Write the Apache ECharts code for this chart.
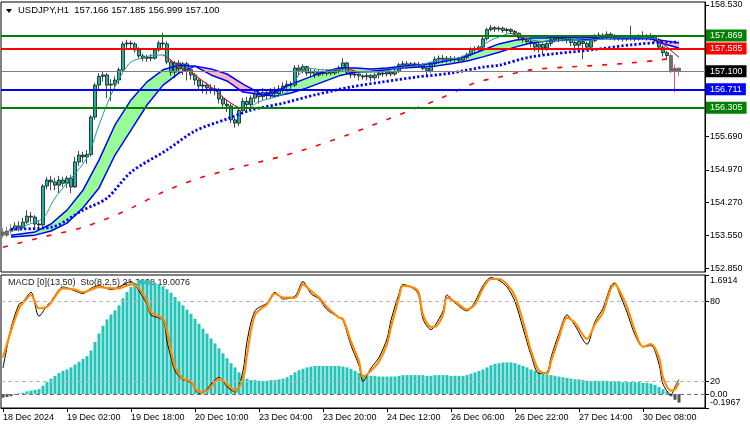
<!DOCTYPE html>
<html>
<head>
<meta charset="utf-8">
<script src="https://cdn.jsdelivr.net/npm/echarts@6/dist/echarts.min.js"></script>
<style>
  html, body { margin: 0; padding: 0; background: #fff; }
  #chart { width: 750px; height: 430px; }
</style>
</head>
<body>
<div id="chart"></div>
<script>
// x axis labels, one every 16 hourly bars
const timeLabels = ['18 Dec 2024', '19 Dec 02:00', '19 Dec 18:00', '20 Dec 10:00', '23 Dec 04:00', '23 Dec 20:00',
  '24 Dec 12:00', '26 Dec 06:00', '26 Dec 22:00', '27 Dec 14:00', '30 Dec 08:00'];

// USDJPY H1 candles
const opens = [153.63,153.56,153.65,153.69,153.76,153.72,153.84,153.97,153.95,153.80,
  153.78,154.62,154.75,154.71,154.64,154.75,154.68,154.79,154.60,155.14,
  155.29,155.25,155.30,156.11,156.80,156.99,157.02,156.80,156.82,156.91,
  157.13,157.69,157.71,157.69,157.56,157.43,157.38,157.40,157.38,157.56,
  157.71,157.69,157.30,157.08,157.28,157.15,157.26,157.13,157.02,156.91,
  156.78,156.80,156.74,156.72,156.69,156.50,156.39,156.35,156.05,155.98,
  156.25,156.45,156.38,156.52,156.62,156.55,156.64,156.58,156.66,156.62,
  156.72,156.78,156.82,156.80,157.17,157.12,157.20,157.06,157.10,157.02,
  157.08,157.05,157.10,157.06,157.12,157.16,157.28,157.08,157.02,157.04,
  157.00,156.98,157.01,156.96,157.02,157.06,157.04,157.08,157.04,157.10,
  157.24,157.26,157.22,157.26,157.24,157.25,157.16,157.10,157.26,157.36,
  157.38,157.34,157.38,157.35,157.36,157.34,157.40,157.46,157.58,157.56,
  157.62,157.80,158.00,158.04,158.01,158.03,157.98,158.00,157.96,157.92,
  157.82,157.78,157.74,157.70,157.62,157.68,157.60,157.70,157.78,157.82,
  157.80,157.84,157.78,157.72,157.66,157.74,157.70,157.62,157.76,157.86,
  157.88,157.84,157.90,157.86,157.82,157.84,157.80,157.82,157.84,157.80,
  157.84,157.86,157.82,157.84,157.78,157.62,157.50,157.44,157.10,157.166];
const closes = [153.56,153.65,153.69,153.76,153.72,153.84,153.97,153.95,153.80,153.78,
  154.62,154.75,154.71,154.64,154.75,154.68,154.79,154.60,155.14,155.29,
  155.25,155.30,156.11,156.80,156.99,157.02,156.80,156.82,156.91,157.13,
  157.69,157.71,157.69,157.56,157.43,157.38,157.40,157.38,157.56,157.71,
  157.69,157.30,157.08,157.28,157.15,157.26,157.13,157.02,156.91,156.78,
  156.80,156.74,156.72,156.69,156.50,156.39,156.35,156.05,155.98,156.25,
  156.45,156.38,156.52,156.62,156.55,156.64,156.58,156.66,156.62,156.72,
  156.78,156.82,156.80,157.17,157.12,157.20,157.06,157.10,157.02,157.08,
  157.05,157.10,157.06,157.12,157.16,157.28,157.08,157.02,157.04,157.00,
  156.98,157.01,156.96,157.02,157.06,157.04,157.08,157.04,157.10,157.24,
  157.26,157.22,157.26,157.24,157.25,157.16,157.10,157.26,157.36,157.38,
  157.34,157.38,157.35,157.36,157.34,157.40,157.46,157.58,157.56,157.62,
  157.80,158.00,158.04,158.01,158.03,157.98,158.00,157.96,157.92,157.82,
  157.78,157.74,157.70,157.62,157.68,157.60,157.70,157.78,157.82,157.80,
  157.84,157.78,157.72,157.66,157.74,157.70,157.62,157.76,157.86,157.88,
  157.84,157.90,157.86,157.82,157.84,157.80,157.82,157.84,157.80,157.84,
  157.86,157.82,157.84,157.78,157.62,157.50,157.44,157.10,157.16,157.100];
const lows = [153.50,153.52,153.58,153.65,153.64,153.70,153.80,153.84,153.71,153.69,
  153.74,154.55,154.53,154.53,154.47,154.60,154.58,154.47,154.58,155.05,
  155.13,155.10,155.26,156.05,156.70,156.88,156.52,156.45,156.70,156.82,
  157.08,157.60,157.58,157.50,157.38,157.32,157.30,157.32,157.35,157.52,
  157.60,157.25,157.00,156.95,157.05,157.02,156.90,156.92,156.80,156.70,
  156.62,156.60,156.62,156.58,156.40,156.30,156.22,155.98,155.88,155.92,
  156.18,156.20,156.25,156.42,156.40,156.48,156.50,156.52,156.56,156.55,
  156.62,156.70,156.72,156.76,157.02,157.05,157.00,156.97,156.95,156.98,
  157.00,157.00,157.01,157.02,157.05,157.10,157.02,156.95,156.96,156.90,
  156.92,156.90,156.88,156.90,156.94,156.98,156.98,156.99,157.00,157.06,
  157.16,157.16,157.18,157.18,157.17,157.12,157.00,157.06,157.20,157.26,
  157.28,157.28,157.29,157.30,157.28,157.30,157.35,157.42,157.48,157.52,
  157.58,157.76,157.96,157.95,157.96,157.93,157.92,157.90,157.86,157.76,
  157.72,157.68,157.62,157.52,157.50,157.46,157.54,157.64,157.72,157.73,
  157.74,157.70,157.64,157.60,157.60,157.36,157.55,157.58,157.72,157.80,
  157.78,157.80,157.78,157.76,157.76,157.74,157.75,157.76,157.74,157.76,
  157.78,157.76,157.76,157.72,157.56,157.42,157.36,157.06,156.64,156.999];
const highs = [153.71,153.74,153.80,153.84,153.86,153.93,154.10,154.06,153.99,153.88,
  154.66,154.82,154.84,154.80,154.84,154.82,154.84,154.86,155.25,155.38,
  155.36,155.40,156.15,156.85,157.06,157.10,157.06,156.93,156.99,157.18,
  157.74,157.78,157.76,157.73,157.62,157.48,157.46,157.47,157.60,157.76,
  157.93,157.74,157.36,157.32,157.34,157.30,157.30,157.16,157.06,156.95,
  156.88,156.86,156.82,156.80,156.74,156.56,156.48,156.40,156.10,156.30,
  156.52,156.55,156.58,156.70,156.68,156.74,156.70,156.74,156.76,156.80,
  156.86,156.90,156.88,157.23,157.24,157.25,157.22,157.16,157.14,157.13,
  157.12,157.14,157.13,157.16,157.22,157.38,157.30,157.10,157.08,157.06,
  157.03,157.06,157.04,157.06,157.10,157.10,157.12,157.11,157.14,157.28,
  157.32,157.32,157.30,157.30,157.30,157.28,157.20,157.30,157.42,157.44,
  157.45,157.43,157.43,157.42,157.41,157.44,157.50,157.62,157.64,157.66,
  157.84,158.04,158.10,158.08,158.07,158.06,158.04,158.03,157.99,157.94,
  157.86,157.84,157.80,157.74,157.72,157.72,157.74,157.82,157.86,157.88,
  157.88,157.88,157.84,157.76,157.78,157.78,157.74,157.80,157.90,157.94,
  157.92,157.96,157.94,157.90,157.88,157.88,157.87,158.08,157.88,157.90,
  157.96,157.90,157.92,157.88,157.82,157.66,157.54,157.48,157.24,157.185];
const greyBars = [0, 1, 2, 167, 168, 169];

// horizontal levels
const levels = [157.869, 157.585, 157.100, 156.711, 156.305];

// ribbon (two blue lines with fill), sampled bars
const ribbonIdx = [2,8,12,16,20,24,28,32,36,40,44,48,52,56,60,65,68,72,76,80,
  84,88,92,96,100,104,108,112,116,120,124,128,132,136,140,144,148,152,156,160,162,166,169];
const ribbonFast = [153.56,153.63,153.80,154.10,154.53,155.18,155.94,156.48,156.87,157.13,
  157.23,157.21,157.02,156.89,156.65,156.59,156.65,156.82,156.95,157.08,
  157.17,157.17,157.15,157.17,157.21,157.23,157.28,157.34,157.43,157.56,
  157.69,157.77,157.82,157.82,157.84,157.82,157.84,157.84,157.84,157.82,157.80,157.67,157.60];
const ribbonSlow = [153.52,153.56,153.65,153.82,154.15,154.58,155.29,155.83,156.37,156.80,
  157.06,157.21,157.15,157.04,156.82,156.59,156.56,156.63,156.74,156.87,
  157.00,157.08,157.10,157.13,157.17,157.19,157.21,157.26,157.32,157.41,
  157.51,157.62,157.71,157.75,157.77,157.77,157.80,157.80,157.80,157.80,157.80,157.75,157.71];

// blue dotted average
const dotIdx = [2,12,20,26,32,41,48,56,62,70,78,87,95,103,112,120,124,132,149,157,167,169];
const dotVal = [153.69,153.73,154.10,154.36,154.92,155.40,155.81,156.07,156.26,156.41,
  156.59,156.76,156.87,156.97,157.06,157.19,157.23,157.41,157.58,157.67,157.73,157.73];

// red dashed long average
const slowIdx = [0,10,20,30,40,49,61,70,78,86,97,109,118,124,132,141,149,157,164,167];
const slowVal = [153.30,153.52,153.73,154.06,154.49,154.79,155.07,155.27,155.48,155.72,
  156.09,156.50,156.85,156.97,157.13,157.19,157.23,157.28,157.34,157.38];

// thin fast average (teal rising, red falling)
const fastIdx = [2,6,10,13,17,21,24,27,30,32,35,38,40,42,44,47,49,52,55,57,59,61,64,68,71,74,76,80,84,
  86,89,94,99,104,109,114,117,122,124,127,129,131,135,140,145,150,155,160,163,166,169];
const fastVal = [153.63,153.78,153.93,154.36,154.79,155.23,155.94,156.59,157.08,157.30,157.39,157.45,
  157.45,157.34,157.19,157.08,156.95,156.76,156.54,156.41,156.31,156.30,156.44,156.54,156.65,157.02,
  157.17,157.13,157.13,157.15,157.08,157.08,157.17,157.23,157.34,157.39,157.51,157.77,157.84,157.92,
  157.86,157.80,157.74,157.77,157.76,157.80,157.82,157.82,157.80,157.62,157.40];
const fastFalling = [[40, 59], [86, 89], [127, 131], [163, 169]];

// MACD histogram
const macdHist = [-0.05,-0.04,-0.03,-0.01,0.01,0.02,0.04,0.05,0.06,0.07,
  0.12,0.17,0.22,0.26,0.30,0.33,0.35,0.38,0.42,0.46,
  0.50,0.54,0.62,0.74,0.86,0.97,1.06,1.13,1.19,1.26,
  1.36,1.45,1.52,1.58,1.62,1.63,1.62,1.60,1.58,1.56,
  1.53,1.49,1.44,1.38,1.32,1.26,1.20,1.14,1.07,1.00,
  0.93,0.86,0.79,0.72,0.65,0.58,0.51,0.44,0.38,0.31,
  0.26,0.22,0.20,0.20,0.19,0.19,0.19,0.20,0.20,0.21,
  0.22,0.24,0.27,0.31,0.34,0.36,0.38,0.39,0.40,0.40,
  0.40,0.40,0.40,0.40,0.40,0.39,0.38,0.36,0.33,0.30,
  0.28,0.27,0.26,0.26,0.25,0.25,0.25,0.25,0.25,0.26,
  0.27,0.27,0.27,0.27,0.27,0.27,0.26,0.26,0.27,0.27,
  0.27,0.27,0.26,0.26,0.26,0.26,0.27,0.29,0.31,0.33,
  0.35,0.38,0.41,0.43,0.44,0.45,0.45,0.45,0.44,0.42,
  0.40,0.38,0.35,0.33,0.31,0.29,0.28,0.27,0.26,0.25,
  0.24,0.23,0.22,0.21,0.21,0.20,0.19,0.19,0.19,0.19,
  0.19,0.19,0.18,0.18,0.18,0.17,0.17,0.17,0.17,0.17,
  0.16,0.16,0.15,0.13,0.10,0.07,0.04,-0.03,-0.08,-0.12];
const macdMin = -0.1967, macdMax = 1.6914;

// Stochastic (8,2,5)
const stochIdx = [0,2,4,5,7,9,11,12,14,15,18,20,22,24,27,29,32,34,36,37,
  40,41,42,43,45,47,49,51,52,54,56,58,60,61,63,66,68,70,73,75,
  77,79,81,84,85,87,89,90,92,94,96,97,99,100,103,104,105,107,108,110,
  111,113,116,118,120,122,124,126,128,130,132,134,136,137,139,141,143,146,148,150,
  152,153,154,156,158,160,162,164,165,167,168,169];
const stochMain = [30,60,78,80,87,69,77,80,89,91,88,86,90,92,89,91,95,88,78,70,
  66,50,38,28,21,19,11,14,18,23,16,12,28,50,73,79,87,82,84,95,
  86,82,74,68,66,47,32,20,30,38,52,66,86,93,89,84,67,59,62,73,
  85,79,73,80,92,98,96,91,80,60,40,26,27,38,56,70,62,48,65,75,
  92,94,87,72,55,46,47,33,18,10,16,21.3608];
const stochSignal = [38,58,75,79,85,75,76,79,88,90,89,87,89,91,90,90,93,90,80,72,
  67,58,43,31,22,20,12,13,16,22,18,13,22,40,70,78,86,83,83,93,
  88,83,76,68,67,50,35,23,28,35,48,61,83,92,90,86,70,61,61,70,
  83,80,74,78,90,97,97,93,84,65,43,28,26,35,53,68,64,52,63,72,
  90,93,89,76,58,46,48,38,23,13,14,19.0076];

const priceTicks = [152.85, 153.55, 154.27, 154.97, 155.69, 156.39, 157.11, 157.81, 158.53];
const priceLabels = [152.85, 153.55, 154.27, 154.97, 155.69, 158.53];

const TEAL = '#22b0a3';
const HIST = '#26c3b8';
const levelColors = ['#008000', '#ff0000', '#808080', '#0000ff', '#008000'];
const levelBoxes = ['#008000', '#ff0000', '#000000', '#0000ff', '#008000'];
const levelWidths = [2, 2, 1, 2, 2];

const nSlots = 176;
const categories = Array.from({length: nSlots}, (_, i) => String(i));
const pair = (idx, vals) => idx.map((x, k) => [x, vals[k]]);
const every16 = i => i % 16 === 0;

const candleData = opens.map((o, i) => {
  const item = {value: [o, closes[i], lows[i], highs[i]]};
  if (greyBars.includes(i)) {
    item.itemStyle = {color: '#6b6b6b', color0: '#6b6b6b', borderColor: i === 168 ? '#d0103a' : '#555', borderColor0: i === 168 ? '#d0103a' : '#555'};
  }
  return item;
});

const ribbonCells = ribbonIdx.slice(0, -1).map((x, k) =>
  [x, ribbonFast[k], ribbonSlow[k], ribbonIdx[k + 1], ribbonFast[k + 1], ribbonSlow[k + 1]]);

const fastRed = fastFalling.map(([a, b]) =>
  pair(fastIdx, fastVal).filter(p => p[0] >= a && p[0] <= b));

const chart = echarts.init(document.getElementById('chart'));
chart.setOption({
  animation: false,
  textStyle: {fontFamily: 'Liberation Sans'},
  grid: [
    {left: 1, top: 2, width: 704, height: 270, show: true, borderColor: '#000', borderWidth: 1, outerBoundsMode: 'none'},
    {left: 1, top: 275, width: 704, height: 133, show: true, borderColor: '#000', borderWidth: 1, outerBoundsMode: 'none'}
  ],
  xAxis: [
    {type: 'category', gridIndex: 0, data: categories, boundaryGap: true,
      axisLine: {show: false}, axisTick: {show: false}, axisLabel: {show: false}},
    {type: 'category', gridIndex: 1, data: categories, boundaryGap: true,
      axisLine: {show: true, lineStyle: {color: '#000'}},
      axisTick: {show: true, alignWithLabel: true, interval: every16, length: 4, lineStyle: {color: '#000'}},
      axisLabel: {interval: every16, formatter: (v, i) => timeLabels[i / 16] || '', align: 'left',
        color: '#000', fontSize: 9, margin: 5}}
  ],
  yAxis: [
    {type: 'value', gridIndex: 0, position: 'right', min: 152.764, max: 158.595, splitLine: {show: false},
      axisLine: {show: true, lineStyle: {color: '#000'}},
      axisTick: {show: true, length: 4, customValues: priceTicks, lineStyle: {color: '#000'}},
      axisLabel: {customValues: priceLabels, formatter: v => v.toFixed(3), color: '#000', fontSize: 9, margin: 5}},
    {type: 'value', gridIndex: 1, position: 'right', min: 0, max: 100, splitLine: {show: false},
      axisLine: {show: true, lineStyle: {color: '#000'}},
      axisTick: {show: true, length: 4, customValues: [20, 80], lineStyle: {color: '#000'}},
      axisLabel: {customValues: [20, 80], color: '#000', fontSize: 9, margin: 5}},
    {type: 'value', gridIndex: 1, position: 'right', min: macdMin, max: macdMax, splitLine: {show: false},
      axisLine: {show: false},
      axisTick: {show: true, length: 4, customValues: [macdMin, 0, macdMax], lineStyle: {color: '#000'}},
      axisLabel: {customValues: [macdMin, 0, macdMax], color: '#000', fontSize: 9, margin: 5,
        formatter: v => Math.abs(v - macdMax) < 1e-6 ? '{t|' + v.toFixed(4) + '}'
          : Math.abs(v - macdMin) < 1e-6 ? '{b|' + v.toFixed(4) + '}' : v.toFixed(2),
        rich: {t: {padding: [12, 0, 0, 0], fontSize: 9, color: '#000'},
               b: {padding: [0, 0, 10, 0], fontSize: 9, color: '#000'}}}}
  ],
  graphic: [
    {type: 'polygon', shape: {points: [[6, 9], [12, 9], [9, 13]]}, style: {fill: '#000'}},
    {type: 'text', left: 18, top: 5, style: {text: 'USDJPY,H1  157.166 157.185 156.999 157.100',
      fontSize: 9.5, fontFamily: 'Liberation Sans', fill: '#000'}},
    {type: 'text', left: 8, top: 278, style: {text: 'MACD [0](13,50)  Sto(8,2,5) 21.3608 19.0076',
      fontSize: 9, fontFamily: 'Liberation Sans', fill: '#222'}}
  ],
  series: [
    {type: 'custom', xAxisIndex: 0, yAxisIndex: 0, z: 1, data: ribbonCells,
      encode: {x: [0, 3], y: [1, 2, 4, 5]},
      renderItem: (params, api) => {
        const up = api.value(1) + api.value(4) >= api.value(2) + api.value(5);
        const fill = up ? '#98fb98' : '#ffb6c1';
        return {type: 'polygon', shape: {points: [
          api.coord([api.value(0), api.value(1)]), api.coord([api.value(3), api.value(4)]),
          api.coord([api.value(3), api.value(5)]), api.coord([api.value(0), api.value(2)])]},
          style: {fill: fill, stroke: fill, lineWidth: 0.6}};
      }},
    {type: 'candlestick', xAxisIndex: 0, yAxisIndex: 0, z: 2, data: candleData, barWidth: 3.4,
      itemStyle: {color: TEAL, color0: TEAL, borderColor: '#000', borderColor0: '#000', borderWidth: 0.7}},
    {type: 'line', xAxisIndex: 0, yAxisIndex: 0, z: 3, data: pair(ribbonIdx, ribbonFast), showSymbol: false,
      lineStyle: {color: '#0000ff', width: 1.5}},
    {type: 'line', xAxisIndex: 0, yAxisIndex: 0, z: 3, data: pair(ribbonIdx, ribbonSlow), showSymbol: false,
      lineStyle: {color: '#0000ff', width: 1.5}},
    {type: 'line', xAxisIndex: 0, yAxisIndex: 0, z: 3, data: pair(fastIdx, fastVal), showSymbol: false,
      smooth: 0.3, lineStyle: {color: '#1a9c8f', width: 1}},
    ...fastRed.map(seg => ({type: 'line', xAxisIndex: 0, yAxisIndex: 0, z: 3, data: seg, showSymbol: false,
      smooth: 0.3, lineStyle: {color: '#ff0000', width: 1}})),
    {type: 'line', xAxisIndex: 0, yAxisIndex: 0, z: 3, data: pair(dotIdx, dotVal), showSymbol: false,
      smooth: 0.3, lineStyle: {color: '#0000ff', width: 2.8, type: [2.2, 2.2]}},
    {type: 'line', xAxisIndex: 0, yAxisIndex: 0, z: 3, data: pair(slowIdx, slowVal), showSymbol: false,
      smooth: 0.3, lineStyle: {color: '#ff0000', width: 1.6, type: [5, 10]},
      markLine: {silent: true, symbol: ['none', 'none'], animation: false,
        data: levels.map((v, k) => ({yAxis: v,
          lineStyle: {color: levelColors[k], width: levelWidths[k], type: 'solid'},
          label: {backgroundColor: levelBoxes[k]}})),
        label: {show: true, position: 'end', distance: 1, formatter: p => levels[p.dataIndex].toFixed(3),
          color: '#fff', fontSize: 9, padding: [2, 4, 1, 4]}}},
    {type: 'bar', xAxisIndex: 1, yAxisIndex: 2, data: macdHist, barWidth: 3,
      itemStyle: {color: p => p.value < 0 ? '#4b535c' : HIST},
      markLine: {silent: true, symbol: ['none', 'none'], label: {show: false},
        lineStyle: {color: '#707070', type: [4, 3], width: 1}, data: [{yAxis: 0}]}},
    {type: 'line', xAxisIndex: 1, yAxisIndex: 1, data: pair(stochIdx, stochMain), showSymbol: false,
      smooth: 0.3, lineStyle: {color: '#000', width: 1},
      markLine: {silent: true, symbol: ['none', 'none'], label: {show: false},
        lineStyle: {color: '#b8b8b8', type: [4, 3], width: 1}, data: [{yAxis: 80}, {yAxis: 20}]}},
    {type: 'line', xAxisIndex: 1, yAxisIndex: 1, data: pair(stochIdx, stochSignal), showSymbol: false,
      smooth: 0.3, lineStyle: {color: '#ff8c00', width: 2.2}}
  ]
});
</script>
</body>
</html>
